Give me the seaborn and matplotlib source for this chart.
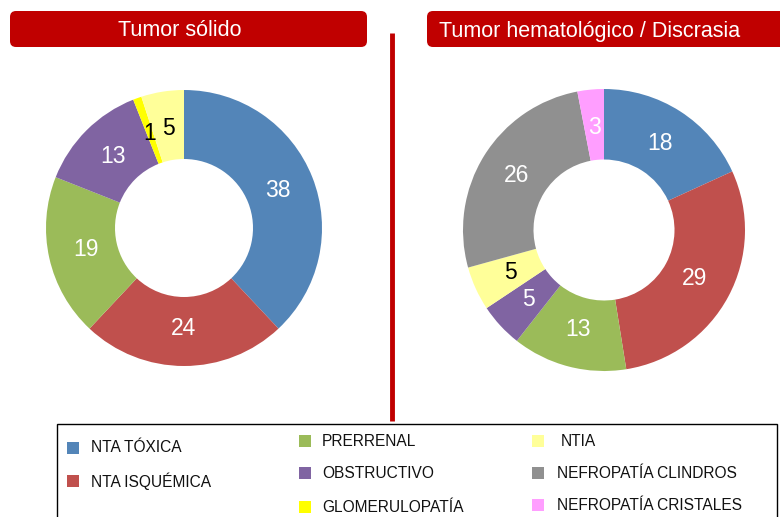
import matplotlib
matplotlib.use("Agg")
import matplotlib.pyplot as plt
from matplotlib.patches import FancyBboxPatch, Rectangle
import seaborn as sns

sns.set_theme(style="white")
plt.rcParams['font.family'] = ['Liberation Sans', 'DejaVu Sans']

# ---- data ----
titles = ["Tumor sólido", "Tumor hematológico / Discrasia"]
left_cats = ["NTA TÓXICA", "NTA ISQUÉMICA", "PRERRENAL", "OBSTRUCTIVO", "GLOMERULOPATÍA", "NTIA"]
left_vals = [38, 24, 19, 13, 1, 5]
right_cats = ["NTA TÓXICA", "NTA ISQUÉMICA", "PRERRENAL", "OBSTRUCTIVO", "NTIA",
              "NEFROPATÍA CLINDROS", "NEFROPATÍA CRISTALES"]
right_vals = [18, 29, 13, 5, 5, 26, 3]

legend_order = ["NTA TÓXICA", "NTA ISQUÉMICA", "PRERRENAL", "OBSTRUCTIVO", "GLOMERULOPATÍA",
                "NTIA", "NEFROPATÍA CLINDROS", "NEFROPATÍA CRISTALES"]
palette = dict(zip(legend_order, sns.color_palette(
    ["#5385B8", "#C0504D", "#9BBB59", "#8064A2", "#FFFF00", "#FFFF99", "#909090", "#FF9EFF"])))
dark_label = {"GLOMERULOPATÍA", "NTIA"}

W, H = 780, 517
fig = plt.figure(figsize=(W / 100, H / 100), dpi=100)
fig.patch.set_facecolor("white")


def px_axes(x0, y0, x1, y1):
    return fig.add_axes([x0 / W, 1 - y1 / H, (x1 - x0) / W, (y1 - y0) / H])


def donut(ax, cats, vals):
    cols = [palette[c] for c in cats]
    wedges, texts, autotexts = ax.pie(
        vals, colors=cols, startangle=90, counterclock=False,
        labels=None, autopct=lambda p: "", pctdistance=0.73,
        wedgeprops=dict(width=0.5, linewidth=0))
    for at, v, c in zip(autotexts, vals, cats):
        at.set_text(str(v))
        at.set_fontsize(16.5)
        at.set_color("black" if c in dark_label else "white")
    ax.set_aspect("equal")
    ax.set_xlim(-1, 1)
    ax.set_ylim(-1, 1)
    ax.axis("off")


axL = px_axes(46, 90, 322, 366)
donut(axL, left_cats, left_vals)
axR = px_axes(463, 89, 745, 371)
donut(axR, right_cats, right_vals)

ov2 = fig.add_axes([0, 0, 1, 1], zorder=5)
ov2.set_xlim(0, W)
ov2.set_ylim(H, 0)
ov2.axis("off")
ov2.patch.set_alpha(0)

red = "#C00000"
for (x0, x1, tx), t in zip([(10, 367, 180), (427, 800, 590)], titles):
    ov2.add_patch(FancyBboxPatch((x0 + 4, 15), x1 - x0 - 8, 28,
                                 boxstyle="round,pad=4,rounding_size=6",
                                 fc=red, ec="none"))
    ov2.text(tx, 31, t, color="white", fontsize=15.5, ha="center", va="center")

ov2.plot([392, 392], [33, 421], color=red, lw=3.5, solid_capstyle="butt")

# legend box
ov2.add_patch(Rectangle((57, 424), 720, 100, fc="white", ec="black", lw=1))
leg_pos = {
    "NTA TÓXICA": (73, 91, 448),
    "NTA ISQUÉMICA": (73, 91, 481),
    "PRERRENAL": (305, 322, 441),
    "OBSTRUCTIVO": (305, 322, 473),
    "GLOMERULOPATÍA": (305, 322, 507),
    "NTIA": (538, 561, 441),
    "NEFROPATÍA CLINDROS": (538, 557, 473),
    "NEFROPATÍA CRISTALES": (538, 557, 505),
}
for c in legend_order:
    sx, tx, y = leg_pos[c]
    ov2.add_patch(Rectangle((sx - 6, y - 6), 12, 12, fc=palette[c], ec="none"))
    ov2.text(tx, y, c, fontsize=11.2, color="#111111", ha="left", va="center")

fig.savefig("out.png", dpi=100, facecolor="white")
